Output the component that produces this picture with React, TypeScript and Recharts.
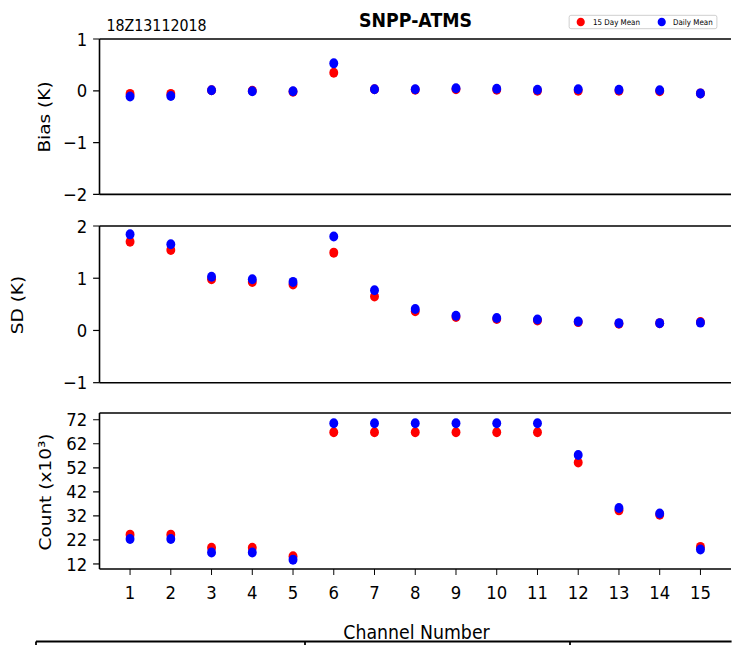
import React from "react";
import { ScatterChart, Scatter, XAxis, YAxis, ReferenceLine } from "recharts";

// ---- data ----
const channels = [1, 2, 3, 4, 5, 6, 7, 8, 9, 10, 11, 12, 13, 14, 15];
const biasFifteenDay = [-0.06, -0.06, 0.01, 0.0, -0.02, 0.35, 0.03, 0.02, 0.03, 0.02, 0.0, 0.0, 0.0, -0.01, -0.05];
const biasDaily = [-0.11, -0.1, 0.01, -0.01, -0.01, 0.53, 0.03, 0.03, 0.05, 0.04, 0.02, 0.03, 0.02, 0.01, -0.05];
const sdFifteenDay = [1.7, 1.54, 0.98, 0.93, 0.88, 1.49, 0.65, 0.37, 0.26, 0.22, 0.19, 0.16, 0.13, 0.14, 0.16];
const sdDaily = [1.84, 1.65, 1.03, 0.98, 0.93, 1.8, 0.77, 0.41, 0.28, 0.24, 0.21, 0.17, 0.14, 0.14, 0.15];
const countFifteenDay = [24.2, 24.2, 18.7, 18.7, 15.2, 66.8, 66.8, 66.8, 66.8, 66.8, 66.8, 54.2, 34.3, 32.5, 19.1];
const countDaily = [22.4, 22.4, 16.8, 16.8, 13.8, 70.5, 70.5, 70.5, 70.5, 70.5, 70.5, 57.3, 35.3, 33.0, 18.0];

const biasTicks = [-2, -1, 0, 1];
const sdTicks = [-1, 0, 1, 2];
const countTicks = [12, 22, 32, 42, 52, 62, 72];

const titleText = "SNPP-ATMS";
const dateText = "18Z13112018";
const legendLabels = ["15 Day Mean", "Daily Mean"];
const yLabels = ["Bias (K)", "SD (K)", "Count (x10³)"];
const xLabel = "Channel Number";

// ---- layout ----
const S = 0.89; // horizontal squeeze of the reference
const W = 732 / S;
const FONT = "DejaVu Sans";
const RED = "#ff0000";
const BLUE = "#0000ff";

const toRows = (vals: number[]) => channels.map((c, i) => ({ ch: c, v: vals[i] }));

const Dot = (color: string) => (p: any) => (
  <circle cx={p.cx} cy={p.cy} r={5} fill={color} />
);

const fmt = (v: number) => String(v).replace("-", "\u2212");

type PanelProps = {
  top: number;
  bottom: number;
  domain: [number, number];
  ticks: number[];
  a: number[];
  b: number[];
  showX: boolean;
};

function Panel({ top, bottom, domain, ticks, a, b, showX }: PanelProps) {
  const mt = 16;
  const xh = 45;
  const h = bottom - top + mt + xh;
  return (
    <div style={{ position: "absolute", left: 0, top: top - mt }}>
      <ScatterChart width={W} height={h} margin={{ top: mt, right: W - 731 / S, bottom: 0, left: 0 }}>
        <XAxis
          type="number"
          dataKey="ch"
          domain={[0.25, 15.75]}
          ticks={channels}
          allowDataOverflow
          height={xh}
          tick={showX ? { fontSize: 18.5, fill: "#000", fontFamily: FONT } : false}
          tickSize={6}
          tickMargin={11}
          axisLine={{ stroke: "#000", strokeWidth: 1.6 }}
          tickLine={{ stroke: "#000", strokeWidth: 1.1 }}
          interval={0}
        />
        <YAxis
          type="number"
          dataKey="v"
          domain={domain}
          ticks={ticks}
          allowDataOverflow
          width={99.5 / S}
          tick={{ fontSize: 18.5, fill: "#000", fontFamily: FONT }}
          tickFormatter={fmt}
          tickSize={7.2}
          tickMargin={6.5}
          axisLine={{ stroke: "#000", strokeWidth: 1.8 }}
          tickLine={{ stroke: "#000", strokeWidth: 1.2 }}
          interval={0}
        />
        <ReferenceLine y={domain[1]} stroke="#000" strokeWidth={1.6} ifOverflow="extendDomain" />
        <Scatter data={toRows(a)} shape={Dot(RED)} isAnimationActive={false} />
        <Scatter data={toRows(b)} shape={Dot(BLUE)} isAnimationActive={false} />
      </ScatterChart>
    </div>
  );
}

export default function App() {
  return (
    <div style={{ position: "absolute", left: 0, top: 0, width: 732, height: 645, overflow: "hidden", background: "#fff" }}>
      <div style={{ position: "absolute", left: 0, top: 0, width: W, height: 645, transform: `scaleX(${S})`, transformOrigin: "0 0" }}>
        <Panel top={39.3} bottom={194.7} domain={[-2, 1]} ticks={biasTicks} a={biasFifteenDay} b={biasDaily} showX={false} />
        <Panel top={226} bottom={382.7} domain={[-1, 2]} ticks={sdTicks} a={sdFifteenDay} b={sdDaily} showX={false} />
        <Panel top={413.3} bottom={569.3} domain={[9.9, 74.8]} ticks={countTicks} a={countFifteenDay} b={countDaily} showX={true} />
        <svg width={W} height={645} style={{ position: "absolute", left: 0, top: 0, pointerEvents: "none" }} fontFamily={FONT}>
          <text x={466.9} y={26.7} textAnchor="middle" fontSize={19.5} fontWeight="bold" fill="#000">{titleText}</text>
          <text x={119.6} y={31.5} fontSize={16} fill="#000">{dateText}</text>
          <rect x={639.5} y={15.3} width={166} height={13.4} rx={2} fill="#fff" stroke="#cccccc" strokeWidth={1} />
          <ellipse cx={652.5} cy={22} rx={4.6} ry={4.3} fill={RED} />
          <text x={666.3} y={24.6} fontSize={8} fill="#000">{legendLabels[0]}</text>
          <ellipse cx={743.5} cy={22} rx={4.6} ry={4.3} fill={BLUE} />
          <text x={756.2} y={24.6} fontSize={8} fill="#000">{legendLabels[1]}</text>
          <text transform={`translate(${44.5 / S},117) rotate(-90)`} textAnchor="middle" dominantBaseline="central" fontSize={18.5} fill="#000">{yLabels[0]}</text>
          <text transform={`translate(${17.5 / S},305) rotate(-90)`} textAnchor="middle" dominantBaseline="central" fontSize={18.5} fill="#000">{yLabels[1]}</text>
          <text transform={`translate(${45 / S},492) rotate(-90)`} textAnchor="middle" dominantBaseline="central" fontSize={18.5} fill="#000">{yLabels[2]}</text>
          <text x={468} y={639.3} textAnchor="middle" fontSize={19.5} fill="#000">{xLabel}</text>
          <line x1={36 / S} y1={641.5} x2={W} y2={641.5} stroke="#000" strokeWidth={2} />
          <line x1={36 / S} y1={641.5} x2={36 / S} y2={645} stroke="#000" strokeWidth={2} />
          <line x1={305 / S} y1={641.5} x2={305 / S} y2={645} stroke="#000" strokeWidth={2} />
          <line x1={570 / S} y1={641.5} x2={570 / S} y2={645} stroke="#000" strokeWidth={2} />
        </svg>
      </div>
    </div>
  );
}
